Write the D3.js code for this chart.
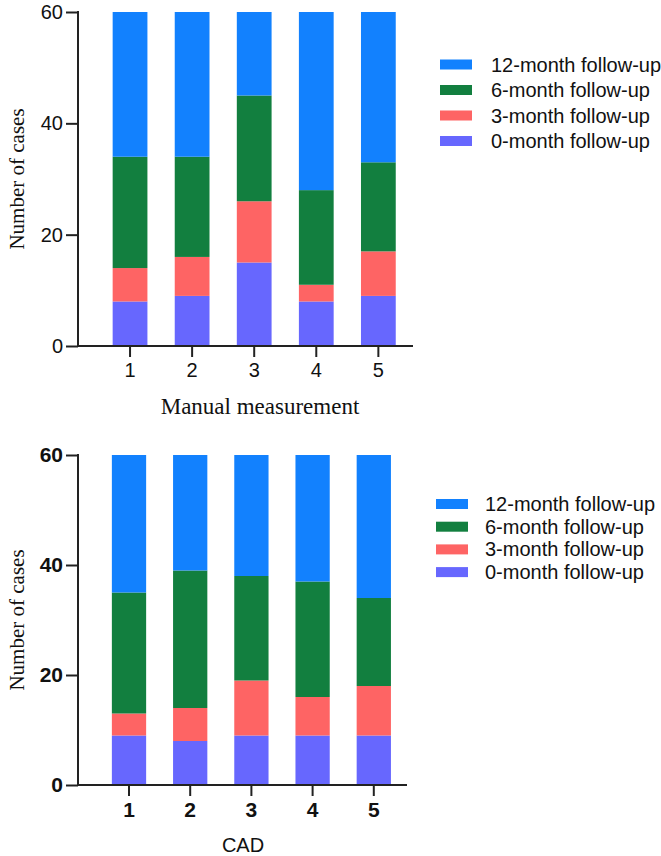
<!DOCTYPE html>
<html><head><meta charset="utf-8">
<script src="https://cdn.jsdelivr.net/npm/d3@7"></script>
<style>body{margin:0;background:#fff}</style>
</head><body>
<svg id="c" width="661" height="856"></svg>
<script>
const categories = ["1","2","3","4","5"];
const seriesNames = ["0-month follow-up","3-month follow-up","6-month follow-up","12-month follow-up"];
const colors = ["#6767fe","#fe6464","#127f3f","#1281fe"];
// Manual measurement
const manual0 = [8,9,15,8,9];
const manual3 = [6,7,11,3,8];
const manual6 = [20,18,19,17,16];
const manual12 = [26,26,15,32,27];
// CAD
const cad0 = [9,8,9,9,9];
const cad3 = [4,6,10,7,9];
const cad6 = [22,25,19,21,16];
const cad12 = [25,21,22,23,26];
const yTicks = [0,20,40,60];

const svg = d3.select("#c");

function panel(cfg){
  const g = svg.append("g");
  const y = d3.scaleLinear().domain([0,60]).range([cfg.y0, cfg.y60]);
  const x = d3.scaleBand().domain(categories).range(cfg.xr).paddingInner(cfg.pad).paddingOuter(cfg.pad/2);
  const data = categories.map((c,i)=>{const o={cat:c}; cfg.series.forEach((s,j)=>o[seriesNames[j]]=s[i]); return o;});
  const stacked = d3.stack().keys(seriesNames)(data);
  g.selectAll("g.s").data(stacked).join("g").attr("fill",(d,i)=>colors[i])
    .selectAll("rect").data(d=>d).join("rect")
    .attr("x",d=>x(d.data.cat)).attr("width",x.bandwidth())
    .attr("y",d=>y(d[1])).attr("height",d=>y(d[0])-y(d[1]));
  // y axis
  const ya = g.append("g").attr("transform",`translate(${cfg.axX},0)`)
    .call(d3.axisLeft(y).tickValues(yTicks).tickSize(12).tickPadding(3));
  ya.select(".domain").remove();
  g.append("line").attr("x1",cfg.axX).attr("x2",cfg.axX).attr("y1",y(60)-1).attr("y2",y(0)).attr("stroke","#222").attr("stroke-width",2);
  ya.selectAll(".tick line").attr("stroke","#222").attr("stroke-width",2);
  ya.selectAll(".tick text").attr("fill","#111").style("font-family","Arial, 'Liberation Sans'").style("font-size",cfg.tickFs+"px").style("font-weight",cfg.bold?"bold":"normal");
  // x axis
  const xa = g.append("g").attr("transform",`translate(0,${cfg.y0})`)
    .call(d3.axisBottom(x).tickSize(11).tickPadding(6));
  xa.select(".domain").remove();
  g.append("line").attr("x1",cfg.axX-1).attr("x2",cfg.axEnd).attr("y1",cfg.y0).attr("y2",cfg.y0).attr("stroke","#222").attr("stroke-width",2);
  xa.selectAll(".tick line").attr("stroke","#222").attr("stroke-width",2);
  xa.selectAll(".tick text").attr("fill","#111").style("font-family","Arial, 'Liberation Sans'").style("font-size",cfg.tickFs+"px").style("font-weight",cfg.bold?"bold":"normal");
  // titles
  g.append("text").attr("transform",`translate(${cfg.yTitleX},${(y(0)+y(60))/2}) rotate(-90)`)
    .attr("text-anchor","middle").style("font-family","'Liberation Serif', 'Times New Roman', serif").style("font-size","21px").attr("fill","#111").text("Number of cases");
  g.append("text").attr("x",cfg.xTitleX).attr("y",cfg.xTitleY).attr("text-anchor","middle")
    .style("font-family",cfg.xTitleFont).style("font-size",cfg.xTitleFs+"px").attr("fill","#111").text(cfg.xTitle);
  // legend
  const order = [3,2,1,0];
  const lg = g.append("g");
  order.forEach((si,k)=>{
    const cy = cfg.legY + k*cfg.legStep;
    lg.append("rect").attr("x",cfg.legX).attr("y",cy-5).attr("width",32).attr("height",10).attr("fill",colors[si]);
    lg.append("text").attr("x",cfg.legX+cfg.legGap).attr("y",cy).attr("dy","0.35em")
      .style("font-family","Arial, 'Liberation Sans'").style("font-size",cfg.legFs+"px").attr("fill","#111").text(seriesNames[si]);
  });
}

panel({series:[manual0,manual3,manual6,manual12], y0:346, y60:12, xr:[99,409.4], pad:0.44, axX:78, axEnd:413,
  tickFs:20, bold:false, yTitleX:24, xTitle:"Manual measurement", xTitleX:260, xTitleY:414,
  xTitleFont:"'Liberation Serif', 'Times New Roman', serif", xTitleFs:23,
  legX:440, legGap:51, legY:64.5, legStep:25.5, legFs:20});
panel({series:[cad0,cad3,cad6,cad12], y0:785, y60:455, xr:[98.4,404.4], pad:0.44, axX:78, axEnd:407,
  tickFs:21, bold:true, yTitleX:24, xTitle:"CAD", xTitleX:243, xTitleY:852,
  xTitleFont:"Arial, 'Liberation Sans'", xTitleFs:20,
  legX:436, legGap:49, legY:504, legStep:22.7, legFs:20});
</script>
</body></html>
